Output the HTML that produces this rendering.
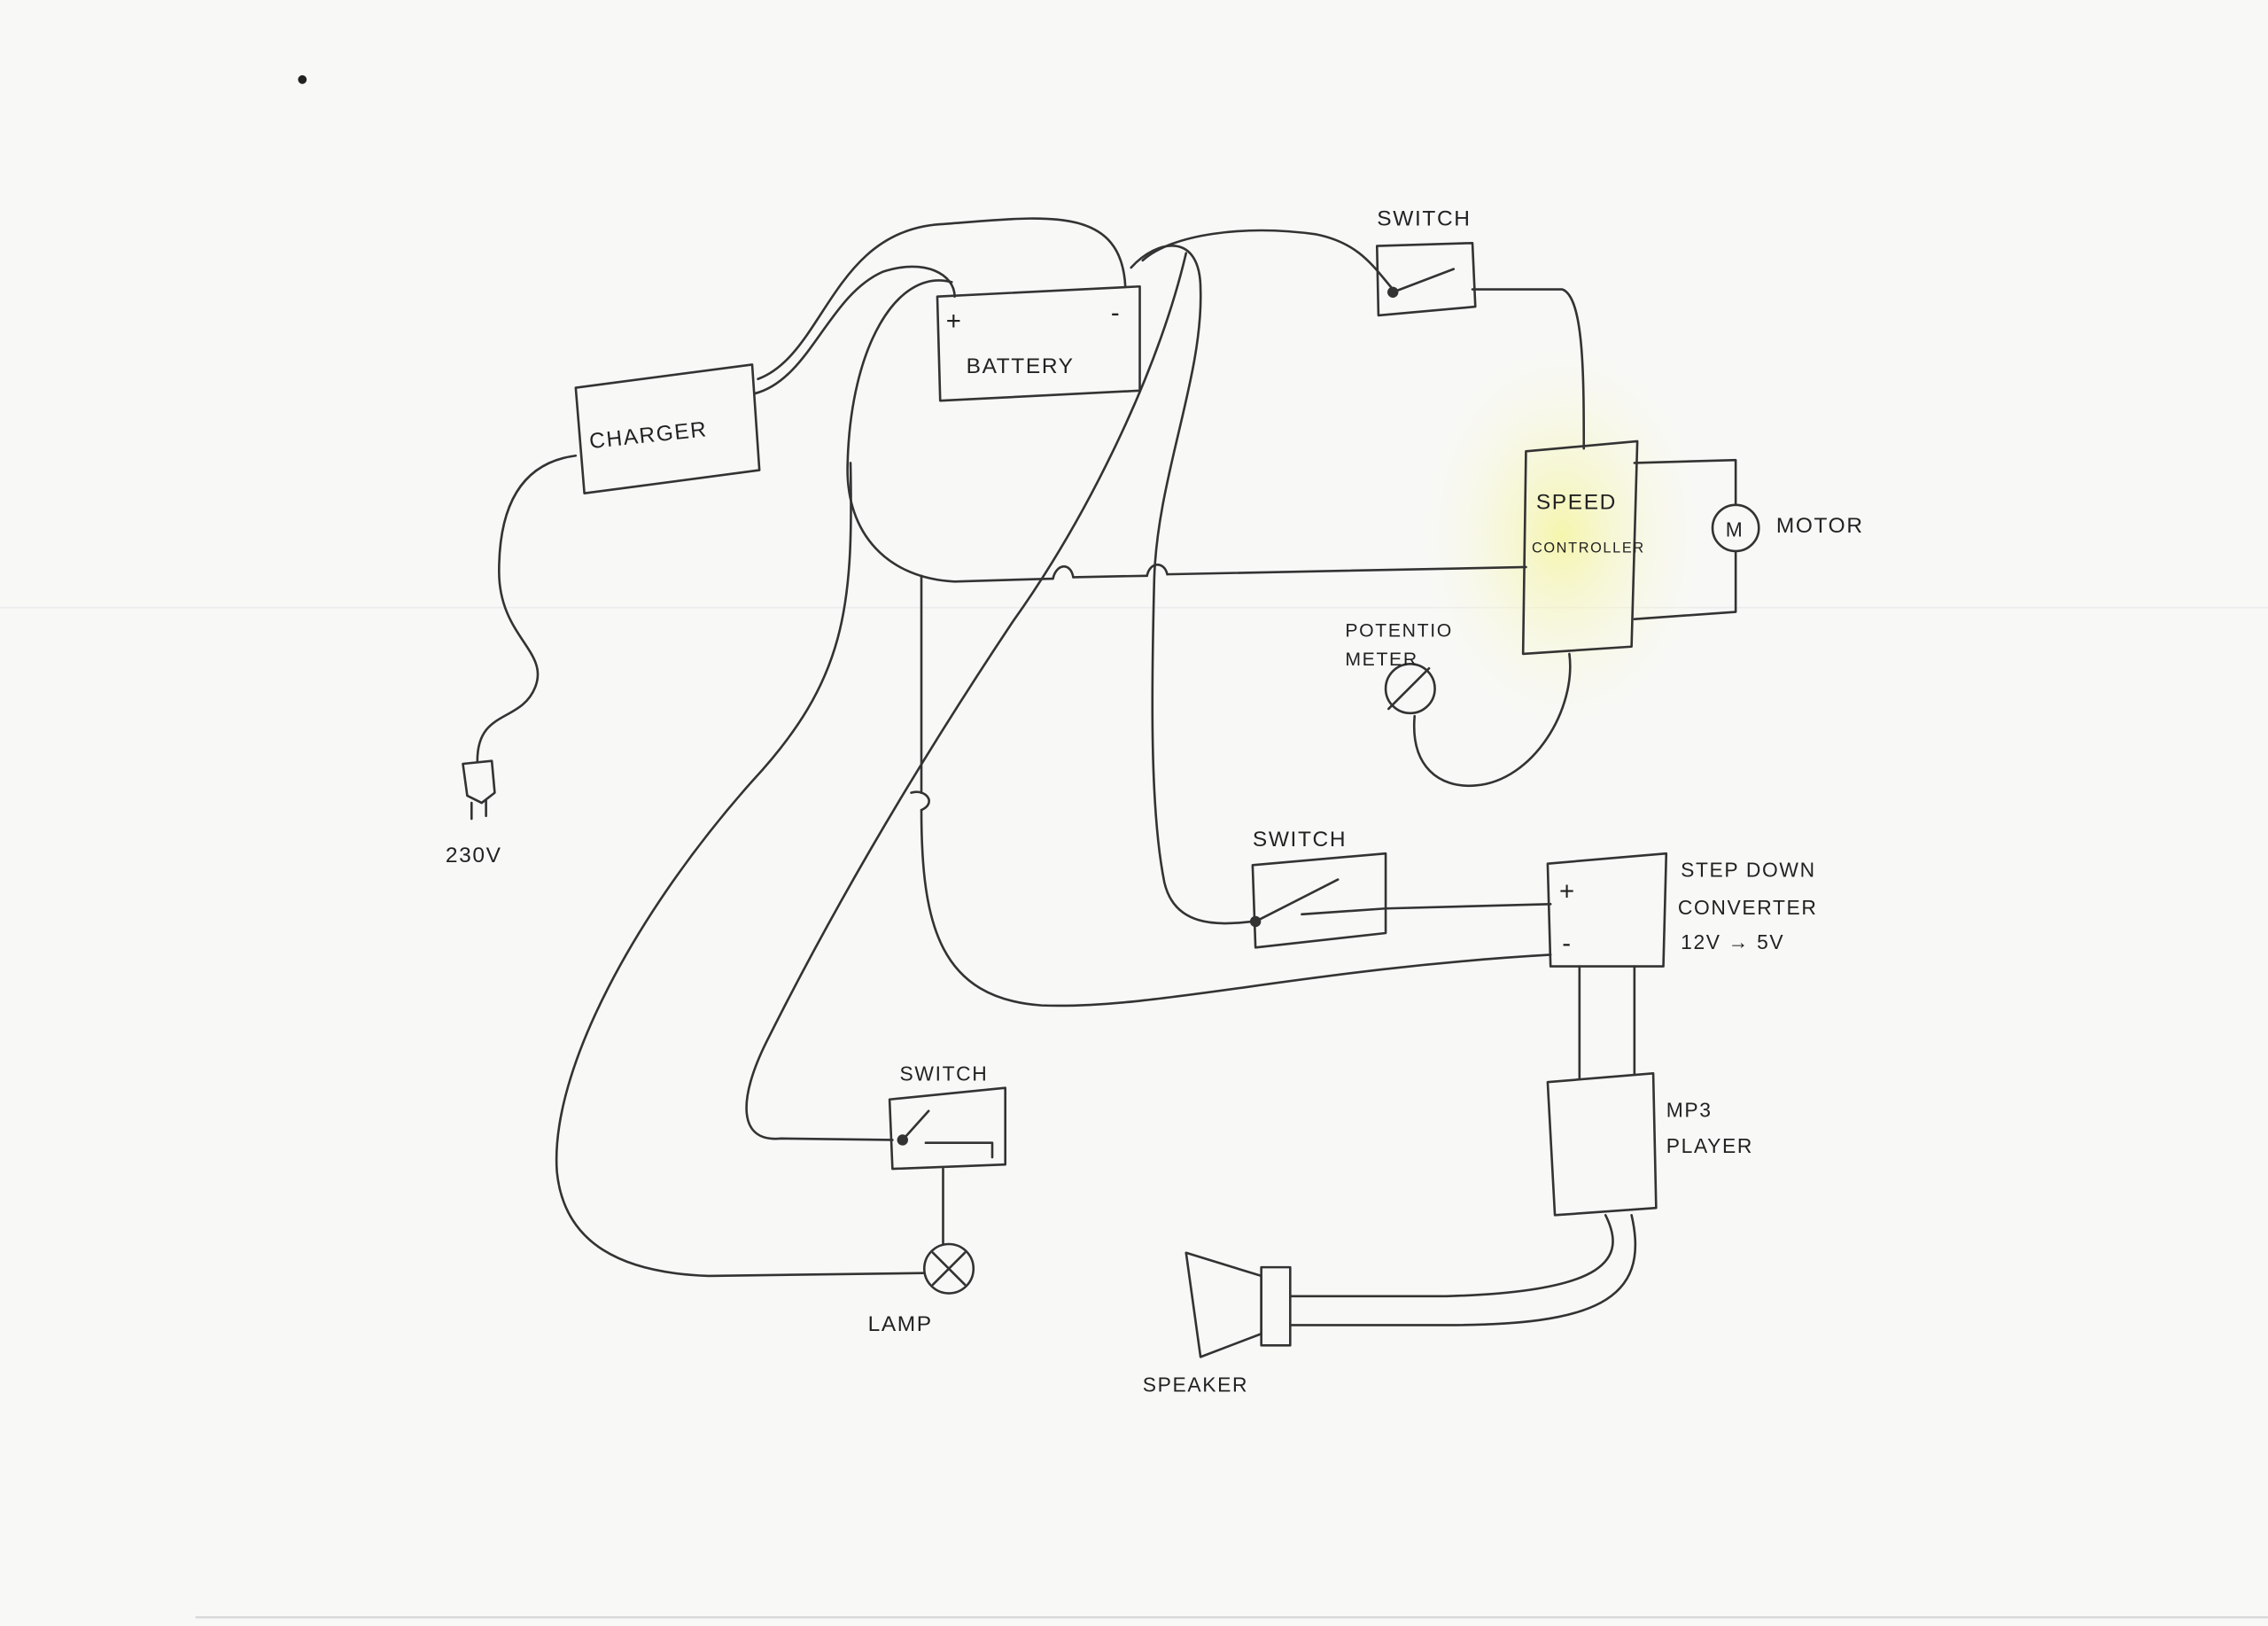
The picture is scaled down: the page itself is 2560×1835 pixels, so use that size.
<!DOCTYPE html>
<html><head><meta charset="utf-8"><style>
html,body{margin:0;padding:0;background:#f8f8f7;}
svg{display:block}
text{font-family:"Liberation Sans",sans-serif;fill:#222;letter-spacing:1px}
</style></head><body>
<svg width="2560" height="1835" viewBox="0 0 1568 1124" xmlns="http://www.w3.org/2000/svg">
<defs>
<radialGradient id="yg" cx="0.5" cy="0.5" r="0.5">
<stop offset="0" stop-color="#f4f59a" stop-opacity="0.8"/>
<stop offset="1" stop-color="#f8f8f7" stop-opacity="0"/>
</radialGradient>
</defs>
<rect width="1568" height="1124" fill="#f8f8f7"/>
<line x1="0" y1="420" x2="1568" y2="420" stroke="#ececec" stroke-width="1"/>
<line x1="135" y1="1118" x2="1568" y2="1118" stroke="#d8d8d8" stroke-width="1.5"/>
<ellipse cx="1080" cy="370" rx="110" ry="150" fill="url(#yg)"/>
<circle cx="209" cy="55" r="3" fill="#222"/>
<g fill="none" stroke="#333" stroke-width="1.6" stroke-linecap="round" stroke-linejoin="round">
<!-- boxes -->
<polygon points="398,268 520,252 525,325 404,341"/>
<polygon points="648,205 788,198 788,270 650,277"/>
<polygon points="952,170 1018,168 1020,212 953,218"/>
<polygon points="1055,312 1132,305 1128,447 1053,452"/>
<polygon points="866,598 958,590 958,645 868,655"/>
<polygon points="1070,597 1152,590 1150,668 1072,668"/>
<polygon points="1070,748 1143,742 1145,835 1075,840"/>
<polygon points="615,760 695,752 695,805 617,808"/>
<!-- motor -->
<circle cx="1200" cy="365" r="16"/>
<path d="M1130,320 L1200,318 L1200,349 M1200,381 L1200,423 L1130,428"/>
<!-- potentiometer -->
<circle cx="975" cy="476" r="17"/>
<path d="M960,490 L988,462 M978,495 C975,530 995,545 1020,543 C1060,540 1090,490 1085,452"/>
<!-- lamp -->
<circle cx="656" cy="877" r="17"/>
<path d="M645,866 L667,888 M667,866 L645,888 M652,808 L652,860"/>
<!-- speaker -->
<path d="M820,866 L872,882 L872,922 L830,938 Z"/>
<rect x="872" y="876" width="20" height="54"/>
<!-- plug -->
<path d="M320,528 L340,526 L342,548 L333,555 L323,550 Z M326,555 L326,566 M336,553 L336,564"/>
<!-- switch internals -->
<circle cx="963" cy="202" r="3" fill="#333"/>
<path d="M963,202 L1005,186 M1018,200 L1080,200 C1095,205 1095,260 1095,310"/>
<circle cx="868" cy="637" r="3" fill="#333"/>
<path d="M868,637 L925,608 M900,632 L958,628 M958,628 L1072,625"/>
<circle cx="624" cy="788" r="3" fill="#333"/>
<path d="M624,788 L642,768 M640,790 L686,790 L686,800"/>
<!-- charger mains -->
<path d="M398,315 C360,320 345,350 345,395 C345,440 380,450 370,475 C360,500 330,490 330,526"/>
<!-- charger to battery -->
<path d="M522,272 C560,262 572,205 610,188 C640,178 660,190 660,205"/>
<path d="M524,262 C570,245 575,160 650,155 C720,150 775,140 778,198"/>
<!-- battery + loop to controller -->
<path d="M658,195 C620,185 588,240 586,320 C584,370 615,400 660,402 L728,400 M742,399 L793,398 M807,397 L1055,392"/>
<path d="M728,400 C730,390 740,388 742,399 M793,398 C795,388 805,388 807,397"/>
<!-- vertical to step down minus -->
<path d="M637,398 L637,548 M637,560 C637,640 650,690 720,695 C800,698 900,670 1072,660"/>
<path d="M630,548 C640,545 648,555 637,560"/>
<!-- battery - to middle switch -->
<path d="M782,185 C800,165 830,160 830,200 C832,260 800,330 798,400 C796,480 795,560 805,610 C812,640 840,640 866,637"/>
<!-- battery - to top switch -->
<path d="M790,180 C810,162 860,155 910,162 C940,168 950,185 963,200"/>
<!-- diagonal to bottom switch -->
<path d="M820,175 C800,260 750,360 700,430 C640,520 580,620 530,720 C510,760 510,790 540,787 L617,788"/>
<!-- big loop to lamp -->
<path d="M588,320 C590,420 585,470 520,540 C440,630 380,740 385,810 C390,860 430,880 490,882 L639,880"/>
<!-- step down to mp3 -->
<path d="M1092,668 L1092,745 M1130,668 L1130,742"/>
<!-- mp3 to speaker -->
<path d="M1110,840 C1125,870 1112,893 1000,896 L892,896 M1128,840 C1142,900 1100,916 1000,916 L892,916"/>
</g>
<g font-size="15">
<text x="408" y="310" transform="rotate(-6 408 310)">CHARGER</text>
<text x="654" y="228" font-size="18">+</text>
<text x="768" y="222" font-size="18">-</text>
<text x="668" y="258">BATTERY</text>
<text x="952" y="156">SWITCH</text>
<text x="1062" y="352">SPEED</text>
<text x="1059" y="382" font-size="10" letter-spacing="0">CONTROLLER</text>
<text x="1193" y="371" font-size="14">M</text>
<text x="1228" y="368">MOTOR</text>
<text x="930" y="440" font-size="13">POTENTIO</text>
<text x="930" y="460" font-size="13">METER</text>
<text x="866" y="585">SWITCH</text>
<text x="1078" y="622" font-size="18">+</text>
<text x="1080" y="658" font-size="18">-</text>
<text x="1162" y="606" font-size="14">STEP DOWN</text>
<text x="1160" y="632" font-size="14">CONVERTER</text>
<text x="1162" y="656" font-size="14">12V → 5V</text>
<text x="1152" y="772" font-size="14">MP3</text>
<text x="1152" y="797" font-size="14">PLAYER</text>
<text x="622" y="747" font-size="14">SWITCH</text>
<text x="600" y="920">LAMP</text>
<text x="790" y="962" font-size="14">SPEAKER</text>
<text x="308" y="596">230V</text>
</g>
</svg>
</body></html>
